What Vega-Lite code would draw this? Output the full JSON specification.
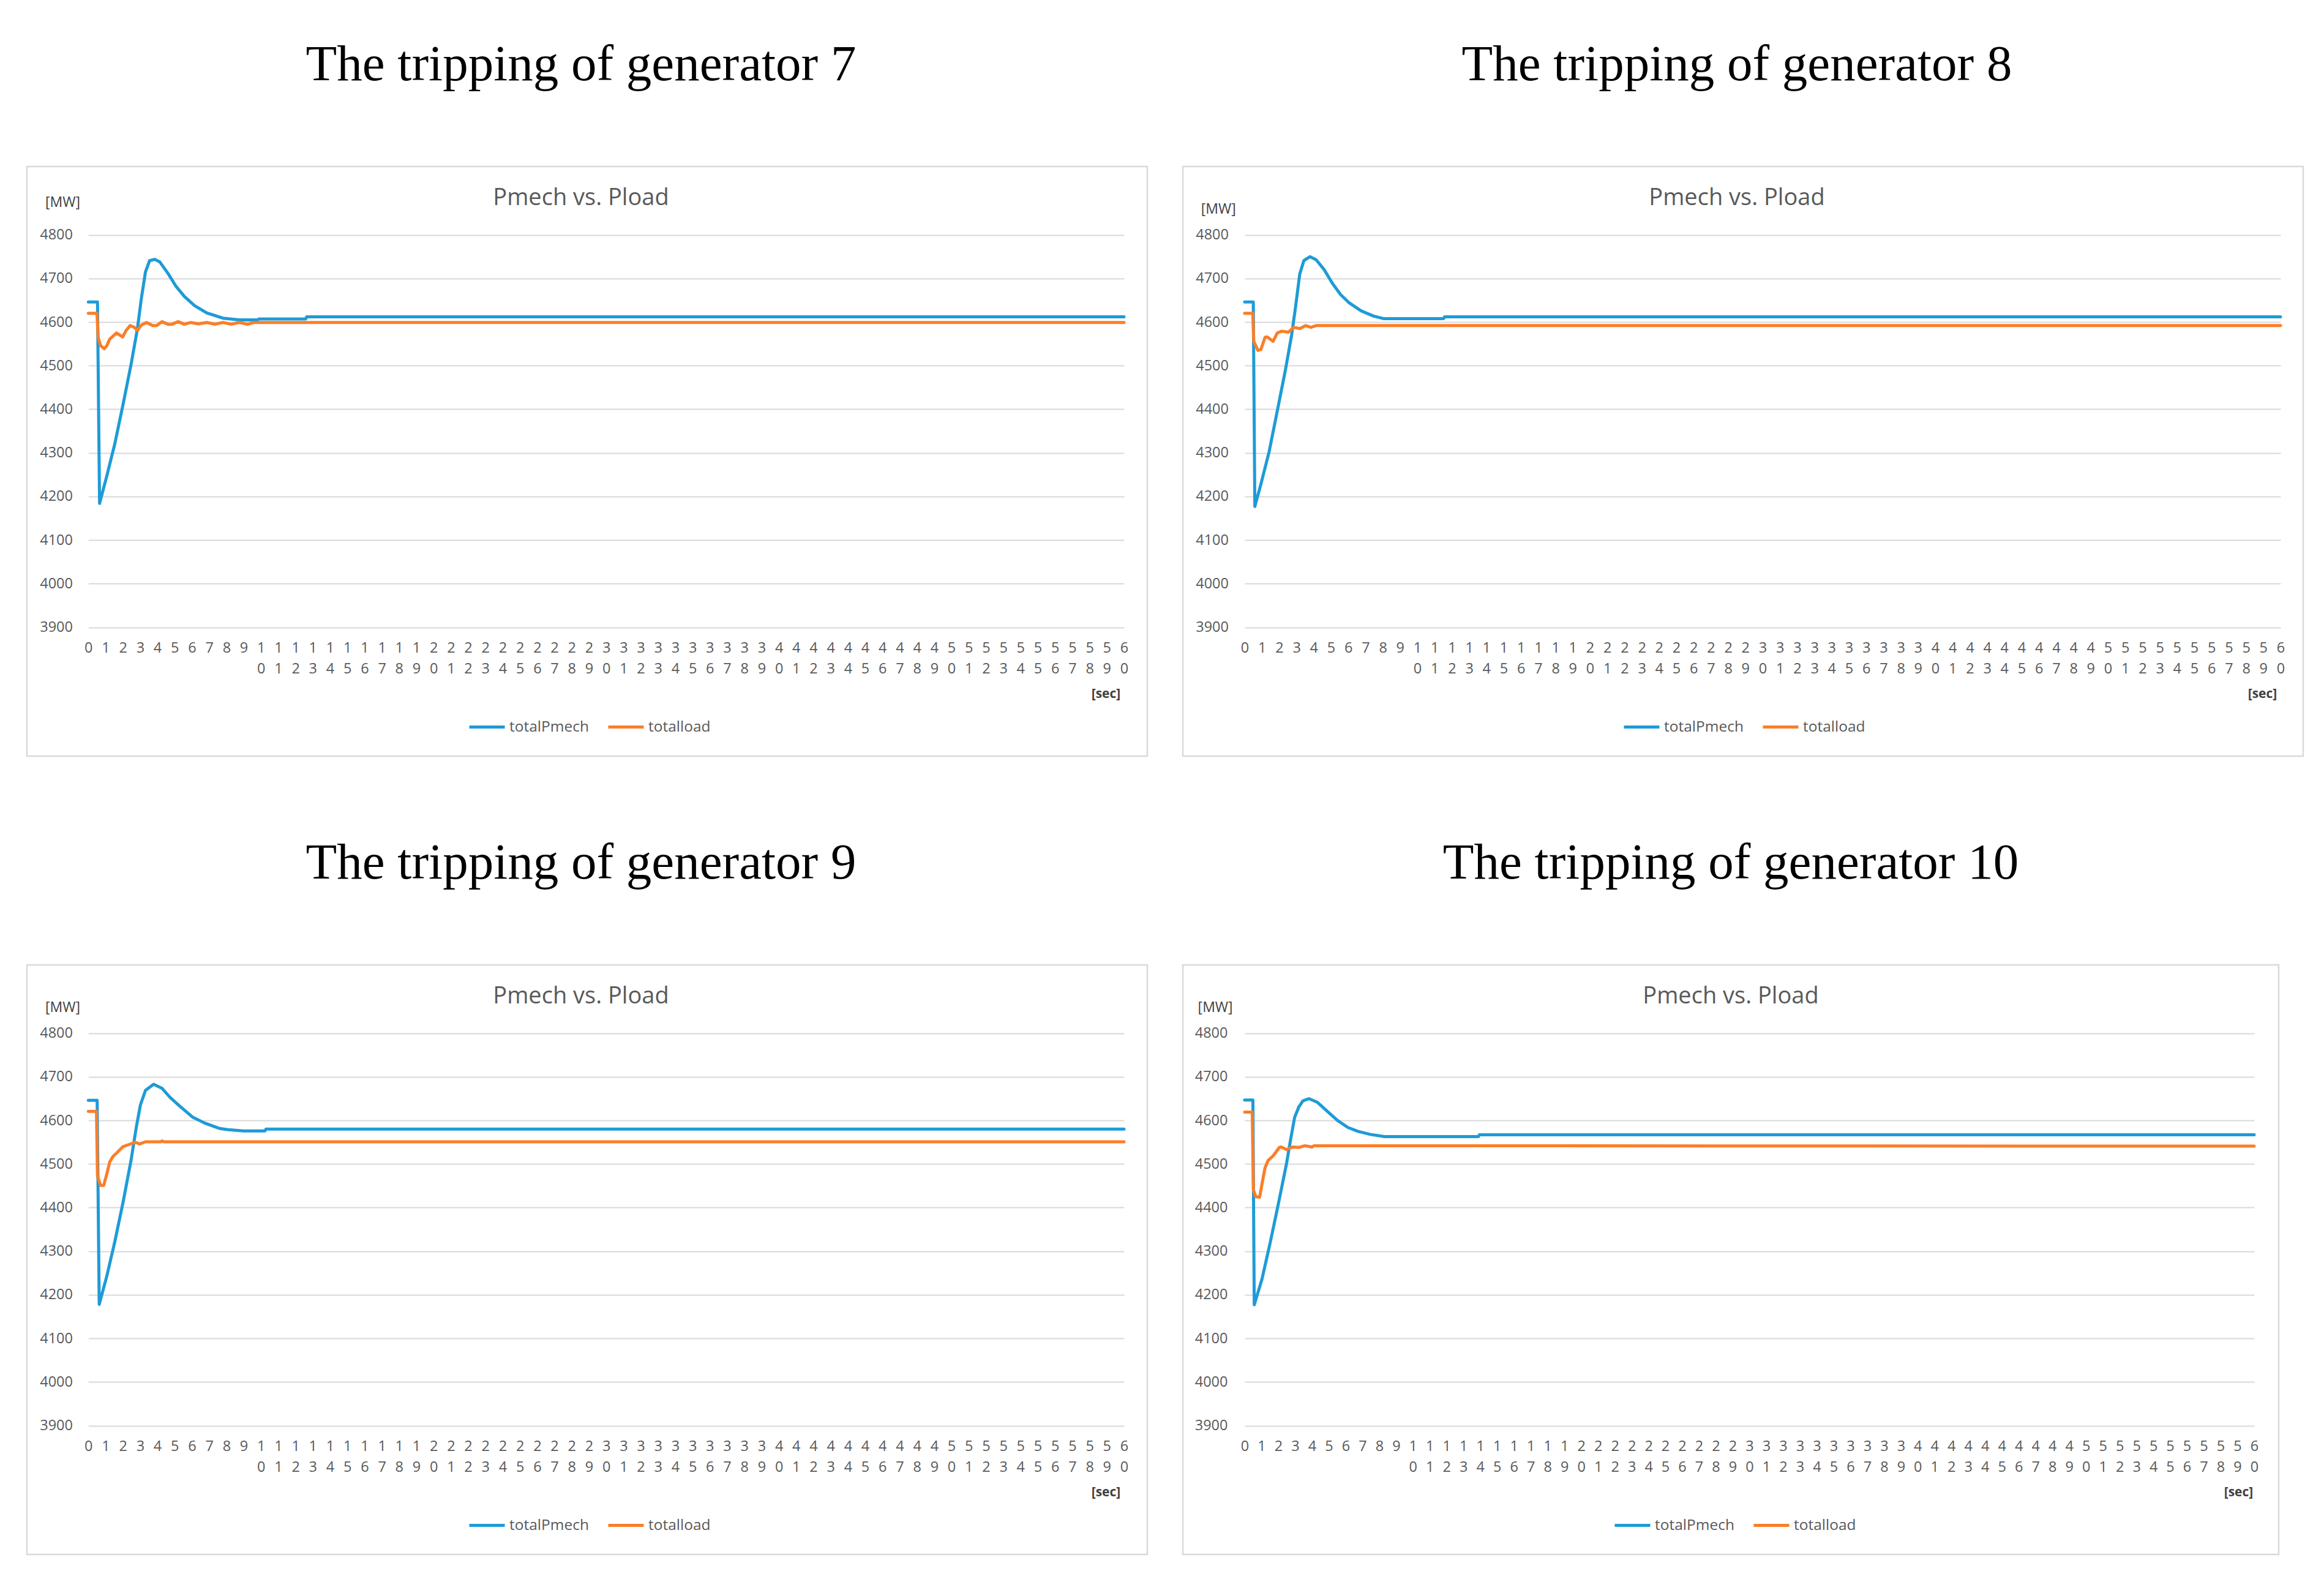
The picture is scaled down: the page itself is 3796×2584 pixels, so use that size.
{
  "$schema": "https://vega.github.io/schema/vega-lite/v6.json",
  "background": "white",
  "padding": {"left": 42, "top": 63, "right": 10, "bottom": 10},
  "datasets": {
    "g7": [
      {"t":0,"s":"totalPmech","v":4646},{"t":0.53,"s":"totalPmech","v":4646},{"t":0.65,"s":"totalPmech","v":4184},{"t":1.07,"s":"totalPmech","v":4247},{"t":1.54,"s":"totalPmech","v":4322},{"t":2.01,"s":"totalPmech","v":4411},{"t":2.48,"s":"totalPmech","v":4504},{"t":2.84,"s":"totalPmech","v":4584},{"t":3.07,"s":"totalPmech","v":4654},{"t":3.31,"s":"totalPmech","v":4715},{"t":3.55,"s":"totalPmech","v":4741},{"t":3.84,"s":"totalPmech","v":4744},{"t":4.14,"s":"totalPmech","v":4738},{"t":4.61,"s":"totalPmech","v":4712},{"t":5.08,"s":"totalPmech","v":4682},{"t":5.56,"s":"totalPmech","v":4659},{"t":6.15,"s":"totalPmech","v":4638},{"t":6.86,"s":"totalPmech","v":4621},{"t":7.8,"s":"totalPmech","v":4609},{"t":8.75,"s":"totalPmech","v":4605},{"t":9.81,"s":"totalPmech","v":4605},{"t":9.87,"s":"totalPmech","v":4607},{"t":12.59,"s":"totalPmech","v":4607},{"t":12.65,"s":"totalPmech","v":4612},{"t":60,"s":"totalPmech","v":4612},
      {"t":0,"s":"totalload","v":4620},{"t":0.5,"s":"totalload","v":4620},{"t":0.57,"s":"totalload","v":4565},{"t":0.71,"s":"totalload","v":4546},{"t":0.92,"s":"totalload","v":4539},{"t":1.07,"s":"totalload","v":4546},{"t":1.24,"s":"totalload","v":4561},{"t":1.63,"s":"totalload","v":4575},{"t":1.99,"s":"totalload","v":4566},{"t":2.19,"s":"totalload","v":4581},{"t":2.42,"s":"totalload","v":4592},{"t":2.66,"s":"totalload","v":4588},{"t":2.84,"s":"totalload","v":4581},{"t":3.07,"s":"totalload","v":4593},{"t":3.37,"s":"totalload","v":4599},{"t":3.72,"s":"totalload","v":4592},{"t":3.96,"s":"totalload","v":4592},{"t":4.26,"s":"totalload","v":4601},{"t":4.61,"s":"totalload","v":4595},{"t":4.85,"s":"totalload","v":4595},{"t":5.2,"s":"totalload","v":4601},{"t":5.56,"s":"totalload","v":4595},{"t":5.91,"s":"totalload","v":4599},{"t":6.38,"s":"totalload","v":4596},{"t":6.86,"s":"totalload","v":4599},{"t":7.33,"s":"totalload","v":4595},{"t":7.8,"s":"totalload","v":4599},{"t":8.28,"s":"totalload","v":4595},{"t":8.75,"s":"totalload","v":4599},{"t":9.22,"s":"totalload","v":4595},{"t":9.58,"s":"totalload","v":4599},{"t":60,"s":"totalload","v":4599}
    ],
    "g8": [
      {"t":0,"s":"totalPmech","v":4646},{"t":0.5,"s":"totalPmech","v":4646},{"t":0.59,"s":"totalPmech","v":4177},{"t":0.94,"s":"totalPmech","v":4228},{"t":1.42,"s":"totalPmech","v":4303},{"t":1.89,"s":"totalPmech","v":4396},{"t":2.36,"s":"totalPmech","v":4490},{"t":2.72,"s":"totalPmech","v":4570},{"t":2.95,"s":"totalPmech","v":4635},{"t":3.19,"s":"totalPmech","v":4710},{"t":3.43,"s":"totalPmech","v":4741},{"t":3.78,"s":"totalPmech","v":4750},{"t":4.14,"s":"totalPmech","v":4743},{"t":4.61,"s":"totalPmech","v":4720},{"t":5.08,"s":"totalPmech","v":4689},{"t":5.56,"s":"totalPmech","v":4663},{"t":6.03,"s":"totalPmech","v":4645},{"t":6.74,"s":"totalPmech","v":4626},{"t":7.45,"s":"totalPmech","v":4614},{"t":8.04,"s":"totalPmech","v":4608},{"t":11.52,"s":"totalPmech","v":4608},{"t":11.58,"s":"totalPmech","v":4612},{"t":60,"s":"totalPmech","v":4612},
      {"t":0,"s":"totalload","v":4620},{"t":0.47,"s":"totalload","v":4620},{"t":0.53,"s":"totalload","v":4556},{"t":0.77,"s":"totalload","v":4535},{"t":0.94,"s":"totalload","v":4537},{"t":1.18,"s":"totalload","v":4565},{"t":1.3,"s":"totalload","v":4566},{"t":1.65,"s":"totalload","v":4556},{"t":1.89,"s":"totalload","v":4575},{"t":2.13,"s":"totalload","v":4579},{"t":2.54,"s":"totalload","v":4577},{"t":2.84,"s":"totalload","v":4588},{"t":3.19,"s":"totalload","v":4585},{"t":3.54,"s":"totalload","v":4592},{"t":3.84,"s":"totalload","v":4588},{"t":4.14,"s":"totalload","v":4592},{"t":60,"s":"totalload","v":4592}
    ],
    "g9": [
      {"t":0,"s":"totalPmech","v":4646},{"t":0.51,"s":"totalPmech","v":4646},{"t":0.63,"s":"totalPmech","v":4178},{"t":1.07,"s":"totalPmech","v":4243},{"t":1.54,"s":"totalPmech","v":4323},{"t":2.01,"s":"totalPmech","v":4412},{"t":2.48,"s":"totalPmech","v":4510},{"t":2.78,"s":"totalPmech","v":4585},{"t":3.02,"s":"totalPmech","v":4636},{"t":3.31,"s":"totalPmech","v":4669},{"t":3.78,"s":"totalPmech","v":4683},{"t":4.26,"s":"totalPmech","v":4674},{"t":4.73,"s":"totalPmech","v":4653},{"t":5.32,"s":"totalPmech","v":4632},{"t":6.03,"s":"totalPmech","v":4608},{"t":6.74,"s":"totalPmech","v":4594},{"t":7.57,"s":"totalPmech","v":4582},{"t":8.04,"s":"totalPmech","v":4579},{"t":8.98,"s":"totalPmech","v":4576},{"t":10.23,"s":"totalPmech","v":4576},{"t":10.29,"s":"totalPmech","v":4580},{"t":60,"s":"totalPmech","v":4580},
      {"t":0,"s":"totalload","v":4621},{"t":0.47,"s":"totalload","v":4621},{"t":0.53,"s":"totalload","v":4472},{"t":0.71,"s":"totalload","v":4451},{"t":0.89,"s":"totalload","v":4451},{"t":1.07,"s":"totalload","v":4477},{"t":1.24,"s":"totalload","v":4505},{"t":1.42,"s":"totalload","v":4517},{"t":1.66,"s":"totalload","v":4526},{"t":2.01,"s":"totalload","v":4540},{"t":2.37,"s":"totalload","v":4545},{"t":2.72,"s":"totalload","v":4550},{"t":2.96,"s":"totalload","v":4546},{"t":3.31,"s":"totalload","v":4551},{"t":4.2,"s":"totalload","v":4551},{"t":4.26,"s":"totalload","v":4553},{"t":4.37,"s":"totalload","v":4551},{"t":60,"s":"totalload","v":4551}
    ],
    "g10": [
      {"t":0,"s":"totalPmech","v":4647},{"t":0.49,"s":"totalPmech","v":4647},{"t":0.57,"s":"totalPmech","v":4177},{"t":1.03,"s":"totalPmech","v":4236},{"t":1.52,"s":"totalPmech","v":4320},{"t":2.0,"s":"totalPmech","v":4408},{"t":2.49,"s":"totalPmech","v":4501},{"t":2.73,"s":"totalPmech","v":4556},{"t":2.97,"s":"totalPmech","v":4607},{"t":3.22,"s":"totalPmech","v":4631},{"t":3.46,"s":"totalPmech","v":4645},{"t":3.82,"s":"totalPmech","v":4650},{"t":4.31,"s":"totalPmech","v":4642},{"t":4.91,"s":"totalPmech","v":4621},{"t":5.52,"s":"totalPmech","v":4600},{"t":6.13,"s":"totalPmech","v":4584},{"t":6.73,"s":"totalPmech","v":4575},{"t":7.46,"s":"totalPmech","v":4568},{"t":8.31,"s":"totalPmech","v":4563},{"t":13.89,"s":"totalPmech","v":4563},{"t":13.95,"s":"totalPmech","v":4567},{"t":60,"s":"totalPmech","v":4567},
      {"t":0,"s":"totalload","v":4619},{"t":0.45,"s":"totalload","v":4619},{"t":0.52,"s":"totalload","v":4440},{"t":0.67,"s":"totalload","v":4425},{"t":0.89,"s":"totalload","v":4424},{"t":1.03,"s":"totalload","v":4454},{"t":1.21,"s":"totalload","v":4491},{"t":1.39,"s":"totalload","v":4508},{"t":1.7,"s":"totalload","v":4519},{"t":2.06,"s":"totalload","v":4538},{"t":2.18,"s":"totalload","v":4539},{"t":2.49,"s":"totalload","v":4533},{"t":2.85,"s":"totalload","v":4539},{"t":3.22,"s":"totalload","v":4538},{"t":3.58,"s":"totalload","v":4542},{"t":4.0,"s":"totalload","v":4539},{"t":4.13,"s":"totalload","v":4542},{"t":60,"s":"totalload","v":4541}
    ]
  },
  "columns": 2,
  "spacing": {"row": 341, "column": 58},
  "bounds": "flush",
  "resolve": {"scale": {"color": "independent"}, "legend": {"color": "independent"}},
  "concat": [
    {
      "width": 1830, "height": 963,
      "title": {"text": "The tripping of generator 7", "subtitle": "Pmech vs. Pload", "dx": -10},
      "data": {"name": "g7"},
      "mark": {"type": "line", "strokeWidth": 5, "strokeJoin": "round", "strokeCap": "round"},
      "encoding": {
        "x": {"field": "t", "type": "quantitative",
          "scale": {"domain": [0, 60], "range": [100.3, 1792], "nice": false, "zero": false},
          "axis": {"values": [0,1,2,3,4,5,6,7,8,9,10,11,12,13,14,15,16,17,18,19,20,21,22,23,24,25,26,27,28,29,30,31,32,33,34,35,36,37,38,39,40,41,42,43,44,45,46,47,48,49,50,51,52,53,54,55,56,57,58,59,60],
            "format": "d", "grid": false, "offset": -210.5, "labelPadding": 22, "labelBaseline": "top", "labelLineHeight": 34, "labelAngle": 0, "labelFlush": false, "labelOverlap": false, "labelBound": false,
            "labelExpr": "datum.value >= 10 ? [substring(datum.label, 0, 1), substring(datum.label, 1, 2)] : datum.label",
            "title": "[sec]", "titleX": 1762, "titleY": 109, "titleAlign": "center", "titleBaseline": "middle", "titleFontWeight": "bold", "titleFontSize": 21}},
        "y": {"field": "v", "type": "quantitative",
          "scale": {"domain": [3900, 4800], "range": [752.5, 111.7], "nice": false, "zero": false},
          "axis": {"values": [3900,4000,4100,4200,4300,4400,4500,4600,4700,4800], "format": "d", "grid": true, "offset": -74.5, "labelPadding": 0, "labelOverlap": false, "labelFlush": false,
            "title": "[MW]", "titleAngle": 0, "titleX": -16.5, "titleY": 58, "titleAlign": "center", "titleBaseline": "middle"}},
        "color": {"field": "s", "type": "nominal",
          "scale": {"domain": ["totalPmech", "totalload"], "range": ["#1e9bd7", "#fb7e29"]},
          "legend": {"legendX": 720, "legendY": 884}}
      }
    },
    {
      "width": 1830, "height": 963,
      "title": {"text": "The tripping of generator 8", "subtitle": "Pmech vs. Pload", "dx": -10},
      "data": {"name": "g8"},
      "mark": {"type": "line", "strokeWidth": 5, "strokeJoin": "round", "strokeCap": "round"},
      "encoding": {
        "x": {"field": "t", "type": "quantitative",
          "scale": {"domain": [0, 60], "range": [101, 1793], "nice": false, "zero": false},
          "axis": {"values": [0,1,2,3,4,5,6,7,8,9,10,11,12,13,14,15,16,17,18,19,20,21,22,23,24,25,26,27,28,29,30,31,32,33,34,35,36,37,38,39,40,41,42,43,44,45,46,47,48,49,50,51,52,53,54,55,56,57,58,59,60],
            "format": "d", "grid": false, "offset": -210.5, "labelPadding": 22, "labelBaseline": "top", "labelLineHeight": 34, "labelAngle": 0, "labelFlush": false, "labelOverlap": false, "labelBound": false,
            "labelExpr": "datum.value >= 10 ? [substring(datum.label, 0, 1), substring(datum.label, 1, 2)] : datum.label",
            "title": "[sec]", "titleX": 1763, "titleY": 109, "titleAlign": "center", "titleBaseline": "middle", "titleFontWeight": "bold", "titleFontSize": 21}},
        "y": {"field": "v", "type": "quantitative",
          "scale": {"domain": [3900, 4800], "range": [752.5, 111.7], "nice": false, "zero": false},
          "axis": {"values": [3900,4000,4100,4200,4300,4400,4500,4600,4700,4800], "format": "d", "grid": true, "offset": -74.5, "labelPadding": 0, "labelOverlap": false, "labelFlush": false,
            "title": "[MW]", "titleAngle": 0, "titleX": -16.8, "titleY": 69, "titleAlign": "center", "titleBaseline": "middle"}},
        "color": {"field": "s", "type": "nominal",
          "scale": {"domain": ["totalPmech", "totalload"], "range": ["#1e9bd7", "#fb7e29"]},
          "legend": {"legendX": 718, "legendY": 884}}
      }
    },
    {
      "width": 1830, "height": 963,
      "title": {"text": "The tripping of generator 9", "subtitle": "Pmech vs. Pload", "dx": -10},
      "data": {"name": "g9"},
      "mark": {"type": "line", "strokeWidth": 5, "strokeJoin": "round", "strokeCap": "round"},
      "encoding": {
        "x": {"field": "t", "type": "quantitative",
          "scale": {"domain": [0, 60], "range": [100.3, 1792], "nice": false, "zero": false},
          "axis": {"values": [0,1,2,3,4,5,6,7,8,9,10,11,12,13,14,15,16,17,18,19,20,21,22,23,24,25,26,27,28,29,30,31,32,33,34,35,36,37,38,39,40,41,42,43,44,45,46,47,48,49,50,51,52,53,54,55,56,57,58,59,60],
            "format": "d", "grid": false, "offset": -210.5, "labelPadding": 22, "labelBaseline": "top", "labelLineHeight": 34, "labelAngle": 0, "labelFlush": false, "labelOverlap": false, "labelBound": false,
            "labelExpr": "datum.value >= 10 ? [substring(datum.label, 0, 1), substring(datum.label, 1, 2)] : datum.label",
            "title": "[sec]", "titleX": 1762, "titleY": 109, "titleAlign": "center", "titleBaseline": "middle", "titleFontWeight": "bold", "titleFontSize": 21}},
        "y": {"field": "v", "type": "quantitative",
          "scale": {"domain": [3900, 4800], "range": [752.5, 111.7], "nice": false, "zero": false},
          "axis": {"values": [3900,4000,4100,4200,4300,4400,4500,4600,4700,4800], "format": "d", "grid": true, "offset": -74.5, "labelPadding": 0, "labelOverlap": false, "labelFlush": false,
            "title": "[MW]", "titleAngle": 0, "titleX": -16.5, "titleY": 69, "titleAlign": "center", "titleBaseline": "middle"}},
        "color": {"field": "s", "type": "nominal",
          "scale": {"domain": ["totalPmech", "totalload"], "range": ["#1e9bd7", "#fb7e29"]},
          "legend": {"legendX": 720, "legendY": 884}}
      }
    },
    {
      "width": 1790, "height": 963,
      "title": {"text": "The tripping of generator 10", "subtitle": "Pmech vs. Pload"},
      "data": {"name": "g10"},
      "mark": {"type": "line", "strokeWidth": 5, "strokeJoin": "round", "strokeCap": "round"},
      "encoding": {
        "x": {"field": "t", "type": "quantitative",
          "scale": {"domain": [0, 60], "range": [101, 1750], "nice": false, "zero": false},
          "axis": {"values": [0,1,2,3,4,5,6,7,8,9,10,11,12,13,14,15,16,17,18,19,20,21,22,23,24,25,26,27,28,29,30,31,32,33,34,35,36,37,38,39,40,41,42,43,44,45,46,47,48,49,50,51,52,53,54,55,56,57,58,59,60],
            "format": "d", "grid": false, "offset": -210.5, "labelPadding": 22, "labelBaseline": "top", "labelLineHeight": 34, "labelAngle": 0, "labelFlush": false, "labelOverlap": false, "labelBound": false,
            "labelExpr": "datum.value >= 10 ? [substring(datum.label, 0, 1), substring(datum.label, 1, 2)] : datum.label",
            "title": "[sec]", "titleX": 1724, "titleY": 109, "titleAlign": "center", "titleBaseline": "middle", "titleFontWeight": "bold", "titleFontSize": 21}},
        "y": {"field": "v", "type": "quantitative",
          "scale": {"domain": [3900, 4800], "range": [752.5, 111.7], "nice": false, "zero": false},
          "axis": {"values": [3900,4000,4100,4200,4300,4400,4500,4600,4700,4800], "format": "d", "grid": true, "offset": -73, "labelPadding": 0, "labelOverlap": false, "labelFlush": false,
            "title": "[MW]", "titleAngle": 0, "titleX": -20.4, "titleY": 69, "titleAlign": "center", "titleBaseline": "middle"}},
        "color": {"field": "s", "type": "nominal",
          "scale": {"domain": ["totalPmech", "totalload"], "range": ["#1e9bd7", "#fb7e29"]},
          "legend": {"legendX": 703, "legendY": 884}}
      }
    }
  ],
  "config": {
    "view": {"stroke": "#d9d9d9", "strokeWidth": 2.5},
    "font": "Open Sans",
    "title": {"font": "Liberation Serif", "fontSize": 83, "fontWeight": "normal", "color": "#000000",
      "subtitleFont": "Open Sans", "subtitleFontSize": 38, "subtitleColor": "#595959", "subtitleFontWeight": "normal",
      "subtitlePadding": 157, "offset": -71, "anchor": "middle", "frame": "group"},
    "axis": {"domain": false, "ticks": false, "tickSize": 0, "gridColor": "#d9d9d9", "gridWidth": 2,
      "labelFont": "Open Sans", "labelFontSize": 23.5, "labelColor": "#595959",
      "titleFont": "Open Sans", "titleFontSize": 23, "titleColor": "#404040", "titleFontWeight": "normal"},
    "legend": {"orient": "none", "direction": "horizontal", "title": null, "symbolType": "stroke", "symbolSize": 3364,
      "symbolStrokeWidth": 5, "labelFont": "Open Sans", "labelFontSize": 24.5, "labelColor": "#595959",
      "labelOffset": 5, "columnPadding": 21, "padding": 0}
  }
}
